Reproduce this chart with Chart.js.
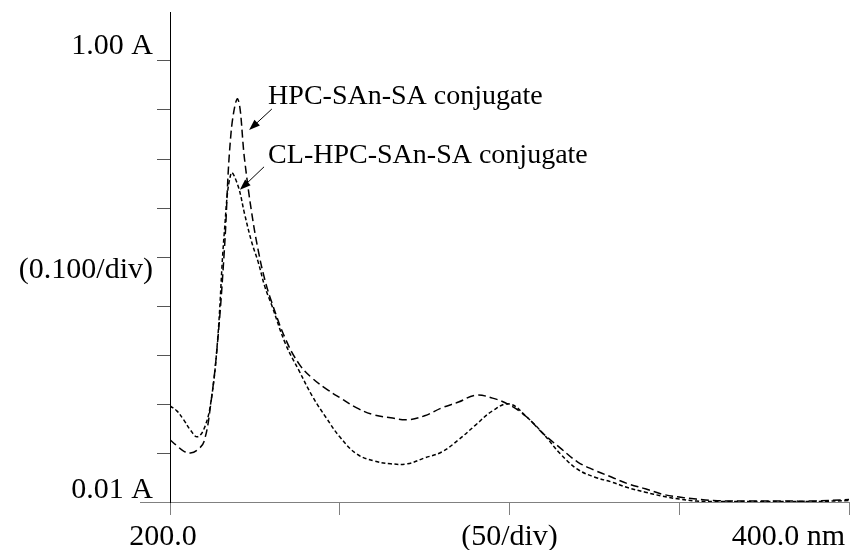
<!DOCTYPE html>
<html>
<head>
<meta charset="utf-8">
<script src="https://cdn.jsdelivr.net/npm/chart.js@4/dist/chart.umd.min.js"></script>
<style>
  html, body { margin: 0; padding: 0; background: #fff; }
  canvas { display: block; }
</style>
</head>
<body>
<canvas id="uvChart" width="852" height="550"></canvas>
<script>
// wavelength (nm)
const wavelengths = [200, 202, 204, 206, 208, 210, 212, 214, 216, 218, 220, 222, 224, 226, 228, 230,
  234, 238, 242, 246, 250, 255, 260, 265, 270, 275, 280, 285, 290, 295, 300, 305, 310, 315, 320,
  325, 330, 335, 340, 345, 350, 355, 360, 365, 370, 380, 390, 400];
// absorbance, HPC-SAn-SA conjugate
const hpcSA = [0.137, 0.125, 0.114, 0.110, 0.116, 0.133, 0.210, 0.335, 0.523, 0.765, 0.832, 0.707,
  0.603, 0.523, 0.462, 0.417, 0.343, 0.292, 0.262, 0.241, 0.223, 0.202, 0.188, 0.182, 0.178, 0.186,
  0.202, 0.214, 0.228, 0.222, 0.208, 0.184, 0.149, 0.120, 0.092, 0.075, 0.061, 0.047, 0.037, 0.026,
  0.020, 0.016, 0.013, 0.012, 0.012, 0.012, 0.012, 0.015];
// absorbance, CL-HPC-SAn-SA conjugate
const clHpcSA = [0.206, 0.196, 0.178, 0.157, 0.143, 0.159, 0.212, 0.339, 0.560, 0.681, 0.656, 0.597,
  0.542, 0.499, 0.448, 0.411, 0.333, 0.278, 0.225, 0.182, 0.143, 0.108, 0.094, 0.088, 0.088, 0.100,
  0.112, 0.137, 0.167, 0.196, 0.210, 0.184, 0.149, 0.108, 0.077, 0.061, 0.051, 0.039, 0.030, 0.022,
  0.016, 0.012, 0.011, 0.011, 0.011, 0.011, 0.011, 0.013];

const xTicks = [200, 250, 300, 350, 400];
const yTicks = [0.01, 0.11, 0.21, 0.31, 0.41, 0.51, 0.61, 0.71, 0.81, 0.91];

// curve labels with arrow (text anchor, arrow start, arrow tip) in data units
const curveNotes = [
  { text: 'HPC-SAn-SA conjugate', at: [228.9, 0.822], from: [230.0, 0.812], to: [223.3, 0.769] },
  { text: 'CL-HPC-SAn-SA conjugate', at: [228.9, 0.702], from: [227.7, 0.694], to: [220.6, 0.647] }
];

const serif = '"Liberation Serif", "Times New Roman", serif';

function toPoints(ys) {
  return wavelengths.map((x, i) => ({ x: x, y: ys[i] }));
}

const textPlugin = {
  id: 'spectrumText',
  afterDraw(chart) {
    const ctx = chart.ctx;
    const xs = chart.scales.x;
    const ys = chart.scales.y;
    const area = chart.chartArea;
    ctx.save();

    // x axis line runs a little past the y axis
    ctx.strokeStyle = '#808080';
    ctx.lineWidth = 1;
    ctx.beginPath();
    ctx.moveTo(area.left - 30, area.bottom + 0.5);
    ctx.lineTo(area.left, area.bottom + 0.5);
    ctx.stroke();

    ctx.fillStyle = '#000';
    ctx.font = '30px ' + serif;
    ctx.textBaseline = 'alphabetic';

    // y axis texts
    ctx.textAlign = 'right';
    ctx.fillText('1.00 A', area.left - 17, ys.getPixelForValue(0.91) - 7);
    ctx.fillText('(0.100/div)', area.left - 17, ys.getPixelForValue(0.51) + 21);
    ctx.fillText('0.01 A', area.left - 17, ys.getPixelForValue(0.01) - 4);

    // x axis texts
    const base = area.bottom + 43;
    ctx.textAlign = 'center';
    ctx.fillText('200.0', xs.getPixelForValue(200) - 7, base);
    ctx.fillText('(50/div)', xs.getPixelForValue(300), base);
    ctx.textAlign = 'right';
    ctx.fillText('400.0 nm', xs.getPixelForValue(400) - 4, base);

    // curve labels
    ctx.font = '28px ' + serif;
    ctx.textAlign = 'left';
    curveNotes.forEach(n => {
      ctx.fillText(n.text, xs.getPixelForValue(n.at[0]), ys.getPixelForValue(n.at[1]));
      const x1 = xs.getPixelForValue(n.from[0]), y1 = ys.getPixelForValue(n.from[1]);
      const x2 = xs.getPixelForValue(n.to[0]), y2 = ys.getPixelForValue(n.to[1]);
      const ang = Math.atan2(y2 - y1, x2 - x1);
      ctx.strokeStyle = '#000';
      ctx.lineWidth = 1;
      ctx.beginPath();
      ctx.moveTo(x1, y1);
      ctx.lineTo(x2 - 8 * Math.cos(ang), y2 - 8 * Math.sin(ang));
      ctx.stroke();
      ctx.beginPath();
      ctx.moveTo(x2, y2);
      ctx.lineTo(x2 - 11 * Math.cos(ang) + 4 * Math.sin(ang), y2 - 11 * Math.sin(ang) - 4 * Math.cos(ang));
      ctx.lineTo(x2 - 11 * Math.cos(ang) - 4 * Math.sin(ang), y2 - 11 * Math.sin(ang) + 4 * Math.cos(ang));
      ctx.closePath();
      ctx.fill();
    });
    ctx.restore();
  }
};

const ctx = document.getElementById('uvChart').getContext('2d');
const chart = new Chart(ctx, {
  type: 'line',
  data: {
    datasets: [
      {
        label: 'HPC-SAn-SA conjugate',
        data: toPoints(hpcSA),
        borderColor: '#000',
        borderWidth: 1.5,
        borderDash: [8, 4],
        pointRadius: 0,
        tension: 0.4,
        fill: false
      },
      {
        label: 'CL-HPC-SAn-SA conjugate',
        data: toPoints(clHpcSA),
        borderColor: '#000',
        borderWidth: 1.5,
        borderDash: [4, 2.5],
        pointRadius: 0,
        tension: 0.4,
        fill: false
      }
    ]
  },
  options: {
    responsive: false,
    animation: false,
    devicePixelRatio: 1,
    layout: { padding: { left: 157, right: 3, top: 12, bottom: 35 } },
    plugins: {
      legend: { display: false },
      tooltip: { enabled: false }
    },
    scales: {
      x: {
        type: 'linear',
        min: 200,
        max: 400,
        afterBuildTicks: s => { s.ticks = xTicks.map(v => ({ value: v })); },
        ticks: { display: false },
        grid: { display: true, drawOnChartArea: false, drawTicks: true, tickLength: 13, color: '#808080' },
        border: { display: true, color: '#808080', width: 1 }
      },
      y: {
        type: 'linear',
        min: 0.01,
        max: 1.01,
        afterBuildTicks: s => { s.ticks = yTicks.map(v => ({ value: v })); },
        ticks: { display: false },
        grid: { display: true, drawOnChartArea: false, drawTicks: true, tickLength: 13, color: '#555' },
        border: { display: true, color: '#000', width: 1 }
      }
    }
  },
  plugins: [textPlugin]
});
</script>
</body>
</html>
